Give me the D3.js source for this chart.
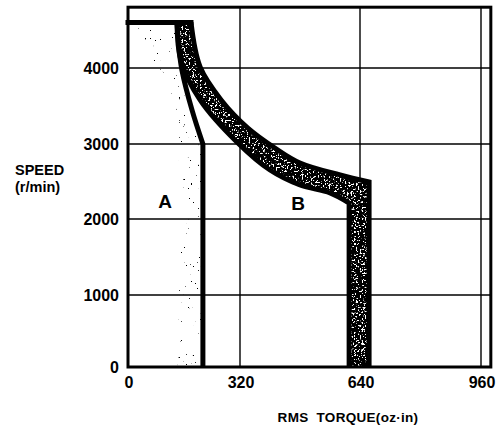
<!DOCTYPE html>
<html>
<head>
<meta charset="utf-8">
<script src="https://cdn.jsdelivr.net/npm/d3@7"></script>
<style>
  body { margin: 0; background: #fff; }
  text { font-family: "Liberation Sans", Arial, Helvetica, sans-serif; font-weight: bold; fill: #000; }
</style>
</head>
<body>
<svg id="chart" width="498" height="441"></svg>
<script>
// Axis ticks (RMS torque in oz·in, speed in r/min)
const xTicks = [0, 320, 640, 960];
const yTicks = [0, 1000, 2000, 3000, 4000];
const torqueMax = 986;
const speedMax = 4800;
const ceilingSpeed = 4600;

// Boundary A (continuous duty): curved upper part, then constant torque down to 0
const curveA = [[140, 4600], [146, 4240], [154, 3975], [183, 3445], [214, 3000]];
const curveAFloorTorque = 214;
// Left edge of the lightly stippled zone next to boundary A
const stippleAEdge = [[20, 4570], [63, 4105], [120, 3580], [143, 2990], [143, 0]];

// Band B (intermittent duty): inner and outer limits
const bandBInner = [[140, 4600], [151, 4105], [206, 3580], [314, 3013], [400, 2653], [480, 2453], [560, 2347], [611, 2213]];
const bandBOuter = [[180, 4600], [206, 4013], [266, 3580], [341, 3210], [413, 2947], [480, 2747], [587, 2587], [664, 2493]];

const svg = d3.select("#chart");

const x = d3.scaleLinear().domain([0, 320, 640, 960]).range([128, 240, 360, 481]);
const y = d3.scaleLinear().domain([0, 1000, 2000, 3000, 4000]).range([367, 295, 219, 144, 68]);

// Textures
const defs = svg.append("defs");
function grain(id, freq, k, b, seed) {
  const f = defs.append("filter").attr("id", id)
    .attr("filterUnits", "userSpaceOnUse")
    .attr("x", 0).attr("y", 0).attr("width", 498).attr("height", 441);
  f.append("feTurbulence").attr("type", "fractalNoise")
    .attr("baseFrequency", freq).attr("numOctaves", 2).attr("seed", seed).attr("result", "noise");
  f.append("feColorMatrix").attr("in", "noise").attr("type", "matrix")
    .attr("values", `0 0 0 0 0  0 0 0 0 0  0 0 0 0 0  ${k} 0 0 0 ${b}`).attr("result", "specks");
  f.append("feComposite").attr("in", "specks").attr("in2", "SourceGraphic").attr("operator", "in");
}
grain("grainB", 0.55, 16, -5.8, 4);
grain("grainA", 0.42, 30, -22.5, 9);

// Gridlines
const grid = svg.append("g").attr("stroke", "#000").attr("stroke-width", 1.4);
grid.selectAll("line.h").data(yTicks.filter(d => d > 0)).join("line").attr("class", "h")
  .attr("x1", x(0)).attr("x2", x(torqueMax)).attr("y1", d => y(d)).attr("y2", d => y(d));
grid.selectAll("line.v").data(xTicks.filter(d => d > 0)).join("line").attr("class", "v")
  .attr("y1", y(0)).attr("y2", y(speedMax)).attr("x1", d => x(d)).attr("x2", d => x(d));

const curve = d3.line().x(d => x(d[0])).y(d => y(d[1])).curve(d3.curveCatmullRom.alpha(0.5));

// Stippled zone beside boundary A
const aZone = curve(curveA)
  + `L${x(curveAFloorTorque)},${y(0)}L${x(stippleAEdge[stippleAEdge.length - 1][0])},${y(0)}`
  + curve(stippleAEdge.slice().reverse()).replace(/^M/, "L") + "Z";
svg.append("path").attr("d", aZone).attr("fill", "#000").attr("filter", "url(#grainA)");

// Band B
const innerLast = bandBInner[bandBInner.length - 1];
const outerLast = bandBOuter[bandBOuter.length - 1];
const bandPath = curve(bandBInner)
  + `L${x(innerLast[0])},${y(0)}L${x(outerLast[0])},${y(0)}`
  + curve(bandBOuter.slice().reverse()).replace(/^M/, "L") + "Z";
svg.append("path").attr("d", bandPath).attr("fill", "#fff");
svg.append("path").attr("d", bandPath).attr("fill", "#000").attr("filter", "url(#grainB)");

const borders = svg.append("g").attr("fill", "none").attr("stroke", "#000")
  .attr("stroke-width", 5).attr("stroke-linejoin", "miter");
borders.append("path").attr("d", curve(bandBInner) + `L${x(innerLast[0])},${y(0)}`);
borders.append("path").attr("d", curve(bandBOuter) + `L${x(outerLast[0])},${y(0)}`);
borders.append("path").attr("d", curve(curveA) + `L${x(curveAFloorTorque)},${y(0)}`);
borders.append("line").attr("stroke-linecap", "square")
  .attr("x1", x(0)).attr("x2", x(bandBOuter[0][0]))
  .attr("y1", y(ceilingSpeed)).attr("y2", y(ceilingSpeed));

// Frame
svg.append("rect")
  .attr("x", x(0)).attr("y", y(speedMax))
  .attr("width", x(torqueMax) - x(0)).attr("height", y(0) - y(speedMax))
  .attr("fill", "none").attr("stroke", "#000").attr("stroke-width", 3);

// Tick labels
svg.append("g").selectAll("text").data(yTicks).join("text")
  .attr("x", 119).attr("y", d => y(d)).attr("dy", "0.36em")
  .attr("text-anchor", "end").style("font-size", "16px").text(d => d);
svg.append("g").selectAll("text").data(xTicks).join("text")
  .attr("x", d => x(d) + 1).attr("y", 382).attr("dy", "0.36em")
  .attr("text-anchor", "middle").style("font-size", "16px").text(d => d);

// Axis titles
svg.append("text").attr("x", 15).attr("y", 175).style("font-size", "14.5px").text("SPEED");
svg.append("text").attr("x", 15).attr("y", 192).style("font-size", "14.5px").text("(r/min)");
svg.append("text").attr("x", 348).attr("y", 422).attr("text-anchor", "middle")
  .style("font-size", "13.5px").style("word-spacing", "4px").style("letter-spacing", "0.3px")
  .text("RMS TORQUE(oz·in)");

// Region labels
svg.append("text").attr("x", 165).attr("y", 208).attr("text-anchor", "middle")
  .style("font-size", "19px").text("A");
svg.append("text").attr("x", 298).attr("y", 210).attr("text-anchor", "middle")
  .style("font-size", "19px").text("B");
</script>
</body>
</html>
